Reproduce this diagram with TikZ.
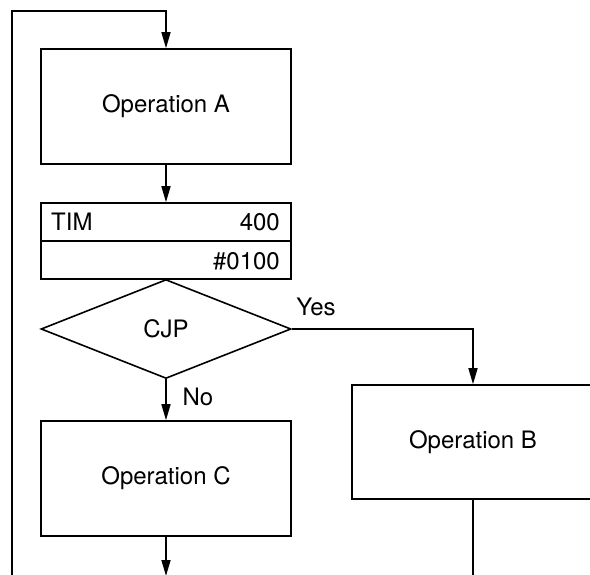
\documentclass[tikz,border=0pt]{standalone}
\usepackage{fontspec}
\setmainfont{TeX Gyre Heros}
\usetikzlibrary{arrows.meta,shapes.geometric}
\begin{document}
\begin{tikzpicture}[x=1pt,y=-1pt,
  every node/.style={font=\fontsize{24}{28}\selectfont},
  box/.style={draw,line width=1.6pt,minimum width=250pt,minimum height=115pt,inner sep=0pt},
  lbl/.style={inner sep=0pt},
  conn/.style={line width=1.6pt},
  arr/.style={conn,-{Triangle[length=16pt,width=9pt]}}
]
\useasboundingbox (0,0) rectangle (590,575);
\clip (0,0) rectangle (590,575);

\node[box] (opA) at (166,106.5) {Operation A};
\node[box,minimum height=38pt] (tim1) at (166,222) {};
\node[box,minimum height=38pt] (tim2) at (166,260) {};
\node[lbl,anchor=west] (timlbl) at (51,222) {TIM};
\node[lbl,anchor=east] (timnum) at (280,222) {400};
\node[lbl,anchor=east] (timset) at (280,261) {\#0100};
\node[diamond,draw,line width=1.6pt,minimum width=250pt,minimum height=99pt,
      inner sep=0pt,aspect=2.5] (cjp) at (166,329) {CJP};
\node[lbl] (yes) at (316,307) {Yes};
\node[lbl] (no) at (198,397) {No};
\node[box,minimum width=242pt,minimum height=114pt] (opB) at (473,442) {Operation B};
\node[box] (opC) at (166,478.5) {Operation C};

\coordinate (botL) at (12,580);
\coordinate (topL) at (12,11);
\coordinate (topR) at (166,11);
\coordinate (cOut) at (166,576);
\coordinate (bOut) at (473,580);

\draw[arr] (botL) -- (topL) -- (topR) -- (opA.north);
\draw[arr] (opA.south) -- (tim1.north);
\draw[arr] (cjp.east) -| (opB.north);
\draw[arr] (cjp.south) -- (opC.north);
\draw[arr] (opC.south) -- (cOut);
\draw[conn] (opB.south) -- (bOut);
\end{tikzpicture}
\end{document}
